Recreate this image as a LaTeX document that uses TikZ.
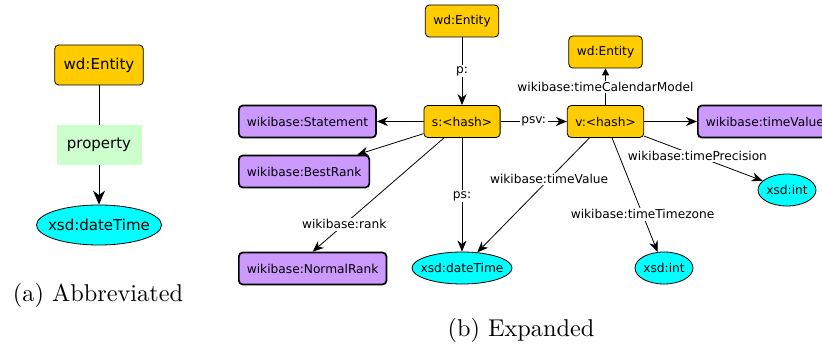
\documentclass[tikz,border=0pt]{standalone}
\usepackage{fontspec}
\newfontfamily\nodefont{DejaVu Sans}
\usetikzlibrary{arrows.meta,shapes.geometric,calc}
\definecolor{entityorange}{HTML}{FFCC00}
\definecolor{classpurple}{HTML}{CC99FF}
\definecolor{literalcyan}{HTML}{00FFFF}
\definecolor{propgreen}{HTML}{CCFFCC}
\begin{document}
\begin{tikzpicture}[x=1pt,y=-1pt,
  small/.style={font=\nodefont\fontsize{12.2}{14}\selectfont},
  large/.style={font=\nodefont\fontsize{15}{18}\selectfont},
  resbox/.style={draw=black, line width=0.8pt, fill=entityorange, rounded corners=4pt,
    minimum height=32pt, inner xsep=8pt, inner ysep=0pt, small},
  classbox/.style={resbox, fill=classpurple, line width=1.7pt},
  literal/.style={ellipse, draw=black, line width=0.8pt, fill=literalcyan,
    minimum height=32pt, inner xsep=-7pt, inner ysep=0pt, small},
  edgelbl/.style={fill=white, inner sep=1.5pt, small},
  link/.style={draw, line width=0.8pt, -{Stealth[length=11pt,width=9pt,inset=3.5pt]}},
  biglink/.style={draw, line width=1pt, -{Stealth[length=14pt,width=12pt,inset=4.5pt]}},
  caption/.style={scale=2.43, anchor=base}
]
\useasboundingbox (0,0) rectangle (822,347);
\clip (0,0) rectangle (822,347);

% ---- (a) abbreviated form ----
\node[resbox, large, inner xsep=9pt, minimum height=40pt] (we0) at (99,65) {wd:Entity};
\node[literal, large, inner xsep=-9pt, minimum width=125pt, minimum height=40pt] (dt0) at (99,225) {xsd:dateTime};
\draw[biglink] (we0) -- node[fill=propgreen, large, minimum width=85pt, minimum height=40pt, inner sep=0pt] (prop) {property} (dt0);
\node[caption] (capa) at (98,302) {(a) Abbreviated};

% ---- (b) expanded form ----
\node[resbox] (we1) at (462,21) {wd:Entity};
\node[resbox] (s) at (462,121.5) {s:<hash>};
\node[classbox, anchor=west] (st) at (238,121.5) {wikibase:Statement};
\node[classbox, anchor=west] (br) at (238,171.5) {wikibase:BestRank};
\node[classbox, anchor=west] (nr) at (238,268.5) {wikibase:NormalRank};
\node[literal, minimum width=100pt] (dt1) at (462,268) {xsd:dateTime};
\node[resbox] (v) at (605.5,121.5) {v:<hash>};
\node[resbox] (we2) at (605.5,52) {wd:Entity};
\node[classbox, anchor=west] (tv) at (697,121.5) {wikibase:timeValue};
\node[literal, minimum width=58pt] (int1) at (787,190) {xsd:int};
\node[literal, minimum width=58pt] (int2) at (664,268) {xsd:int};

% statement node edges
\draw[link] (we1) -- node[edgelbl] {p:} (s);
\draw[link] (s) -- (st);
\draw[link] (s) -- (br);
\draw[link] ($(s.south)+(-18,0)$) -- node[edgelbl, pos=0.76] {wikibase:rank} (nr.north);
\draw[link] (s) -- node[edgelbl, pos=0.51] {ps:} (dt1);
\draw[link] (s) -- node[edgelbl] {psv:} (v);

% value node edges
\draw[line width=0.8pt, -{Triangle[length=7pt,width=7pt]}] (v) -- node[edgelbl] {wikibase:timeCalendarModel} (we2);
\draw[link] (v) -- (tv);
\draw[link] (v) -- node[edgelbl, pos=0.45] {wikibase:timePrecision} (int1);
\draw[link] (v) -- node[edgelbl, pos=0.67] {wikibase:timeTimezone} (int2);
\draw[link] (v) -- node[edgelbl, pos=0.36] {wikibase:timeValue} (dt1);

\node[caption] (capb) at (521,337) {(b) Expanded};
\end{tikzpicture}
\end{document}
